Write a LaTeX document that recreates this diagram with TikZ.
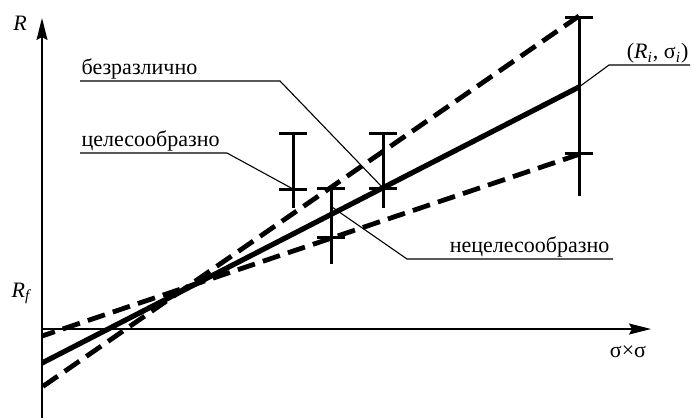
\documentclass[tikz,border=0pt]{standalone}
\usepackage{fontspec}
\setmainfont{Liberation Serif}
\usetikzlibrary{arrows.meta,positioning}

\begin{document}
\begin{tikzpicture}[
  x=0.5pt, y=-0.5pt,
  font=\fontsize{11}{13}\selectfont,
  axis/.style={line width=0.8pt, -{Stealth[length=11pt, width=5.5pt, inset=1.5pt]}},
  fitline/.style={line width=2.6pt},
  bound/.style={line width=2.4pt, dash pattern=on 9pt off 4.2pt},
  bar/.style={line width=1.5pt},
  leader/.style={line width=0.55pt},
  lbl/.style={inner sep=0.6pt}
]
\useasboundingbox (0,0) rectangle (694,419);
% axes
\coordinate (o) at (42,329);
\coordinate (ytop) at (42,18);
\coordinate (ybot) at (42,418);
\coordinate (xend) at (651,329);
\draw[axis] (ybot) -- (ytop);
\draw[axis] (o) -- (xend);
\node[lbl, anchor=base] (ylab) at (20,30) {\itshape R};
\node[lbl, anchor=base] (rf) at (21,297) {{\itshape R}\textsubscript{\itshape f}};
\node[lbl, anchor=base] (xlab) at (628,357) {σ×σ};
% regression line and bounds
\coordinate (s0) at (42,363);
\coordinate (s1) at (579,87);
\coordinate (u0) at (42,387);
\coordinate (u1) at (579,16);
\coordinate (l0) at (42,336);
\coordinate (l1) at (580,154);
\draw[bound] (u1) -- (u0);
\draw[bound] (l1) -- (l0);
\draw[fitline] (s0) -- (s1);
% error bars
\coordinate (a-top) at (293,133);
\coordinate (a-mid) at (293,189);
\coordinate (a-bot) at (293,208);
\coordinate (b-top) at (331,188);
\coordinate (b-mid) at (331,237);
\coordinate (b-bot) at (331,264);
\coordinate (c-top) at (383,133);
\coordinate (c-mid) at (383,188);
\coordinate (c-bot) at (383,208);
\coordinate (d-top) at (579,17);
\coordinate (d-mid) at (579,153);
\coordinate (d-bot) at (579,196);
\draw[bar] (a-top) -- (a-bot);
\draw[bar] ([xshift=-7pt]a-top) -- ([xshift=7pt]a-top);
\draw[bar] ([xshift=-7pt]a-mid) -- ([xshift=7pt]a-mid);
\draw[bar] (b-top) -- (b-bot);
\draw[bar] ([xshift=-7pt]b-top) -- ([xshift=7pt]b-top);
\draw[bar] ([xshift=-7pt]b-mid) -- ([xshift=7pt]b-mid);
\draw[bar] (c-top) -- (c-bot);
\draw[bar] ([xshift=-7pt]c-top) -- ([xshift=7pt]c-top);
\draw[bar] ([xshift=-7pt]c-mid) -- ([xshift=7pt]c-mid);
\draw[bar] (d-top) -- (d-bot);
\draw[bar] ([xshift=-7pt]d-top) -- ([xshift=7pt]d-top);
\draw[bar] ([xshift=-7pt]d-mid) -- ([xshift=7pt]d-mid);
% labels with leaders
\coordinate (bz-l) at (80,81);
\coordinate (bz-k) at (280,81);
\node[lbl, anchor=south west] (bezr) at (bz-l) {безразлично};
\draw[leader] (bz-l) -- (bz-k) -- (c-mid);
\coordinate (cs-l) at (80,153);
\coordinate (cs-k) at (227,153);
\node[lbl, anchor=south west] (cel) at (cs-l) {целесообразно};
\draw[leader] (cs-l) -- (cs-k) -- (a-mid);
\coordinate (ri-r) at (690,65);
\coordinate (ri-k) at (609,65);
\node[lbl, anchor=south east] (ri) at (ri-r) {({\itshape R}\textsubscript{\itshape i}, σ\textsubscript{\itshape i})};
\draw[leader] (s1) -- (ri-k) -- (ri-r);
\coordinate (b-fit) at (332,207);
\coordinate (nc-k) at (407,259);
\coordinate (nc-r) at (613,259);
\node[lbl, anchor=south east] (necel) at ([xshift=-1pt]nc-r) {нецелесообразно};
\draw[leader] (b-fit) -- (nc-k) -- (nc-r);
\end{tikzpicture}
\end{document}
